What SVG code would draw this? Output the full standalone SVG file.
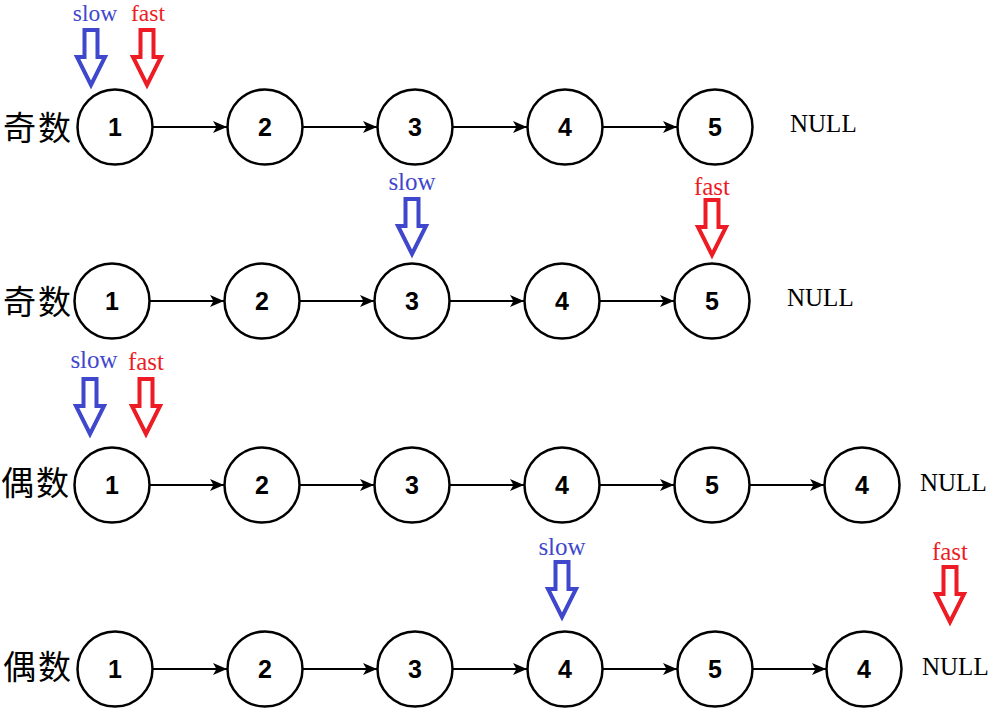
<svg xmlns="http://www.w3.org/2000/svg" width="999" height="714" viewBox="0 0 999 714">
<style>
.node circle{fill:#fff;stroke:#000;stroke-width:2.5}
.node text{font-family:"Liberation Sans",Arial,sans-serif;font-weight:bold;font-size:25px;text-anchor:middle;fill:#000}
.edge{stroke:#000;stroke-width:2.2;fill:none;marker-end:url(#ah)}
.cjk{font-family:"Noto Sans CJK SC",sans-serif;font-size:33px;letter-spacing:2px;fill:#000;dominant-baseline:central}
.null{font-family:"Liberation Serif","Times New Roman",serif;font-size:25px;fill:#000}
.lbl{font-family:"Liberation Serif","Times New Roman",serif;font-size:25px;text-anchor:middle}
.top{font-size:23.5px}
.slowt{fill:#3F48CC}
.fastt{fill:#ED1C24}
.ptr{fill:#fff;stroke-width:4;stroke-linejoin:miter}
.slowp{stroke:#3F48CC}
.fastp{stroke:#ED1C24}
</style>
<defs>
<marker id="ah" viewBox="0 0 14 12" refX="14" refY="6" markerWidth="14" markerHeight="12" markerUnits="userSpaceOnUse" orient="auto">
<path d="M0,0 L14,6 L0,12 L3.5,6 Z" fill="#000"/>
</marker>
<path id="bp" d="M-6.5,-55 L6.5,-55 L6.5,-28 L14,-28 L0,0 L-14,-28 L-6.5,-28 Z"/>
</defs>
<rect width="999" height="714" fill="#fff"/>

<g id="labels">
<text class="cjk" x="3" y="126">奇数</text>
<text class="cjk" x="3" y="300">奇数</text>
<text class="cjk" x="1" y="481">偶数</text>
<text class="cjk" x="3" y="665">偶数</text>
<text class="null" x="790" y="132">NULL</text>
<text class="null" x="787" y="306">NULL</text>
<text class="null" x="920" y="491">NULL</text>
<text class="null" x="922" y="675">NULL</text>
</g>

<g id="connectors">
<line class="edge" x1="153" y1="127" x2="227" y2="127"/>
<line class="edge" x1="303" y1="127" x2="377" y2="127"/>
<line class="edge" x1="453" y1="127" x2="527" y2="127"/>
<line class="edge" x1="603" y1="127" x2="677" y2="127"/>

<line class="edge" x1="150" y1="301" x2="224" y2="301"/>
<line class="edge" x1="300" y1="301" x2="374" y2="301"/>
<line class="edge" x1="450" y1="301" x2="524" y2="301"/>
<line class="edge" x1="600" y1="301" x2="674" y2="301"/>

<line class="edge" x1="150" y1="485" x2="224" y2="485"/>
<line class="edge" x1="300" y1="485" x2="374" y2="485"/>
<line class="edge" x1="450" y1="485" x2="524" y2="485"/>
<line class="edge" x1="600" y1="485" x2="674" y2="485"/>
<line class="edge" x1="750" y1="485" x2="824" y2="485"/>

<line class="edge" x1="153" y1="669" x2="227" y2="669"/>
<line class="edge" x1="303" y1="669" x2="377" y2="669"/>
<line class="edge" x1="453" y1="669" x2="527" y2="669"/>
<line class="edge" x1="603" y1="669" x2="677" y2="669"/>
<line class="edge" x1="753" y1="669" x2="826" y2="669"/>
</g>

<g id="r1n1" class="node"><circle cx="115" cy="127" r="37.5"/><text x="115" y="136">1</text></g>
<g id="r1n2" class="node"><circle cx="265" cy="127" r="37.5"/><text x="265" y="136">2</text></g>
<g id="r1n3" class="node"><circle cx="415" cy="127" r="37.5"/><text x="415" y="136">3</text></g>
<g id="r1n4" class="node"><circle cx="565" cy="127" r="37.5"/><text x="565" y="136">4</text></g>
<g id="r1n5" class="node"><circle cx="715" cy="127" r="37.5"/><text x="715" y="136">5</text></g>

<g id="r2n1" class="node"><circle cx="112" cy="301" r="37.5"/><text x="112" y="310">1</text></g>
<g id="r2n2" class="node"><circle cx="262" cy="301" r="37.5"/><text x="262" y="310">2</text></g>
<g id="r2n3" class="node"><circle cx="412" cy="301" r="37.5"/><text x="412" y="310">3</text></g>
<g id="r2n4" class="node"><circle cx="562" cy="301" r="37.5"/><text x="562" y="310">4</text></g>
<g id="r2n5" class="node"><circle cx="712" cy="301" r="37.5"/><text x="712" y="310">5</text></g>

<g id="r3n1" class="node"><circle cx="112" cy="485" r="37.5"/><text x="112" y="494">1</text></g>
<g id="r3n2" class="node"><circle cx="262" cy="485" r="37.5"/><text x="262" y="494">2</text></g>
<g id="r3n3" class="node"><circle cx="412" cy="485" r="37.5"/><text x="412" y="494">3</text></g>
<g id="r3n4" class="node"><circle cx="562" cy="485" r="37.5"/><text x="562" y="494">4</text></g>
<g id="r3n5" class="node"><circle cx="712" cy="485" r="37.5"/><text x="712" y="494">5</text></g>
<g id="r3n6" class="node"><circle cx="862" cy="485" r="37.5"/><text x="862" y="494">4</text></g>

<g id="r4n1" class="node"><circle cx="115" cy="669" r="37.5"/><text x="115" y="678">1</text></g>
<g id="r4n2" class="node"><circle cx="265" cy="669" r="37.5"/><text x="265" y="678">2</text></g>
<g id="r4n3" class="node"><circle cx="415" cy="669" r="37.5"/><text x="415" y="678">3</text></g>
<g id="r4n4" class="node"><circle cx="565" cy="669" r="37.5"/><text x="565" y="678">4</text></g>
<g id="r4n5" class="node"><circle cx="715" cy="669" r="37.5"/><text x="715" y="678">5</text></g>
<g id="r4n6" class="node"><circle cx="864" cy="669" r="37.5"/><text x="864" y="678">4</text></g>

<g id="pointers">
<text class="lbl top slowt" x="95" y="21">slow</text>
<text class="lbl top fastt" x="148" y="21">fast</text>
<use href="#bp" class="ptr slowp" x="91" y="85"/>
<use href="#bp" class="ptr fastp" x="147" y="85"/>

<text class="lbl slowt" x="412" y="190">slow</text>
<text class="lbl fastt" x="712" y="195">fast</text>
<use href="#bp" class="ptr slowp" x="412" y="254"/>
<use href="#bp" class="ptr fastp" x="712" y="255"/>

<text class="lbl slowt" x="94" y="368">slow</text>
<text class="lbl fastt" x="146" y="370">fast</text>
<use href="#bp" class="ptr slowp" x="90" y="434"/>
<use href="#bp" class="ptr fastp" x="146" y="434"/>

<text class="lbl slowt" x="562" y="555">slow</text>
<text class="lbl fastt" x="950" y="560">fast</text>
<use href="#bp" class="ptr slowp" x="562" y="617"/>
<use href="#bp" class="ptr fastp" x="950" y="622"/>
</g>
</svg>
